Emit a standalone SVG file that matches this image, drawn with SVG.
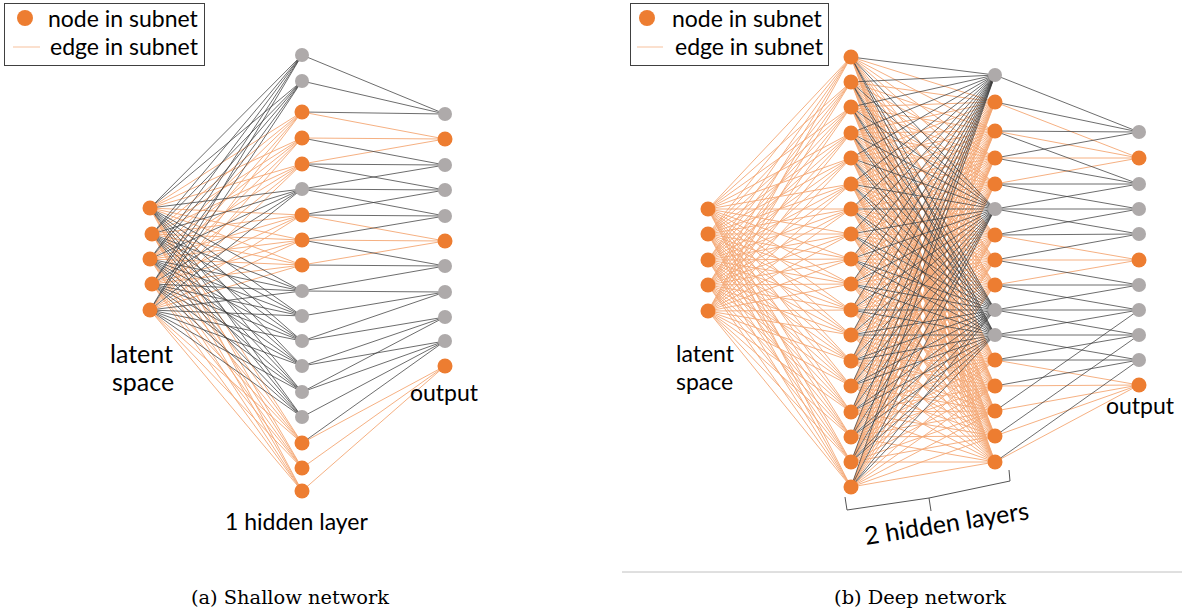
<svg xmlns="http://www.w3.org/2000/svg" width="1182" height="615" viewBox="0 0 1182 615">
<style>
.o{fill:#ED7D31}
.g{fill:#AEAAAA}
.eo{stroke:#F4A774;stroke-width:0.9;fill:none}
.ek{stroke:#3C3C3C;stroke-width:0.75;fill:none}
.lbl{font-family:Lato,"Liberation Sans",sans-serif;font-size:23px;fill:#000}
.big{font-size:25px}
.cap{font-family:"DejaVu Serif","Liberation Serif",serif;font-size:19.4px;fill:#000}
.box{fill:#fff;stroke:#404040;stroke-width:1}
</style>
<rect width="1182" height="615" fill="#fff"/>
<g id="connectors">
<!-- (a) input -> hidden -->
<path class="eo" d="M150 208L302 112M150 208L302 138M150 208L302 164M150 208L302 215M150 208L302 240M150 208L302 265M150 208L302 443M150 208L302 468M150 208L302 491
M152 234L302 112M152 234L302 138M152 234L302 164M152 234L302 215M152 234L302 240M152 234L302 265M152 234L302 443M152 234L302 468M152 234L302 491
M150 259L302 112M150 259L302 138M150 259L302 164M150 259L302 215M150 259L302 240M150 259L302 265M150 259L302 443M150 259L302 468M150 259L302 491
M152 284L302 112M152 284L302 138M152 284L302 164M152 284L302 215M152 284L302 240M152 284L302 265M152 284L302 443M152 284L302 468M152 284L302 491
M150 310L302 112M150 310L302 138M150 310L302 164M150 310L302 215M150 310L302 240M150 310L302 265M150 310L302 443M150 310L302 468M150 310L302 491"/>
<path class="ek" d="M150 208L302 55M150 208L302 81M150 208L302 189M150 208L302 291M150 208L302 316M150 208L302 341M150 208L302 366M150 208L302 392M150 208L302 417
M152 234L302 55M152 234L302 81M152 234L302 189M152 234L302 291M152 234L302 316M152 234L302 341M152 234L302 366M152 234L302 392M152 234L302 417
M150 259L302 55M150 259L302 81M150 259L302 189M150 259L302 291M150 259L302 316M150 259L302 341M150 259L302 366M150 259L302 392M150 259L302 417
M152 284L302 55M152 284L302 81M152 284L302 189M152 284L302 291M152 284L302 316M152 284L302 341M152 284L302 366M152 284L302 392M152 284L302 417
M150 310L302 55M150 310L302 81M150 310L302 189M150 310L302 291M150 310L302 316M150 310L302 341M150 310L302 366M150 310L302 392M150 310L302 417"/>
<!-- (a) hidden -> output -->
<path class="eo" d="M302 112L445 139M302 138L445 139M302 164L445 139M302 215L445 241M302 240L445 241M302 265L445 241M302 443L445 366M302 468L445 366M302 491L445 366"/>
<path class="ek" d="M302 55L445 114M302 81L445 114M302 112L445 114M302 138L445 165M302 164L445 165M302 164L445 190M302 189L445 165M302 189L445 190M302 189L445 216M302 215L445 190M302 215L445 216M302 240L445 216M302 240L445 266M302 265L445 266M302 291L445 266M302 291L445 292M302 316L445 292M302 341L445 292M302 341L445 317M302 366L445 317M302 366L445 341M302 392L445 317M302 392L445 341M302 417L445 341M302 443L445 341"/>
<!-- (b) input -> hidden1 -->
<path class="eo" d="M708 209L851 57M708 209L851 82M708 209L851 107M708 209L851 133M708 209L851 158M708 209L851 184M708 209L851 209M708 209L851 234M708 209L851 259M708 209L851 284M708 209L851 310M708 209L851 335M708 209L851 361M708 209L851 386M708 209L851 412M708 209L851 437M708 209L851 462M708 209L851 487
M708 234L851 57M708 234L851 82M708 234L851 107M708 234L851 133M708 234L851 158M708 234L851 184M708 234L851 209M708 234L851 234M708 234L851 259M708 234L851 284M708 234L851 310M708 234L851 335M708 234L851 361M708 234L851 386M708 234L851 412M708 234L851 437M708 234L851 462M708 234L851 487
M708 260L851 57M708 260L851 82M708 260L851 107M708 260L851 133M708 260L851 158M708 260L851 184M708 260L851 209M708 260L851 234M708 260L851 259M708 260L851 284M708 260L851 310M708 260L851 335M708 260L851 361M708 260L851 386M708 260L851 412M708 260L851 437M708 260L851 462M708 260L851 487
M708 285L851 57M708 285L851 82M708 285L851 107M708 285L851 133M708 285L851 158M708 285L851 184M708 285L851 209M708 285L851 234M708 285L851 259M708 285L851 284M708 285L851 310M708 285L851 335M708 285L851 361M708 285L851 386M708 285L851 412M708 285L851 437M708 285L851 462M708 285L851 487
M708 311L851 57M708 311L851 82M708 311L851 107M708 311L851 133M708 311L851 158M708 311L851 184M708 311L851 209M708 311L851 234M708 311L851 259M708 311L851 284M708 311L851 310M708 311L851 335M708 311L851 361M708 311L851 386M708 311L851 412M708 311L851 437M708 311L851 462M708 311L851 487"/>
<!-- (b) hidden1 -> hidden2 -->
<path class="eo" d="M851 57L995 102M851 57L995 131M851 57L995 158M851 57L995 184M851 57L995 235M851 57L995 260M851 57L995 285M851 57L995 360M851 57L995 386M851 57L995 411M851 57L995 436M851 57L995 462
M851 82L995 102M851 82L995 131M851 82L995 158M851 82L995 184M851 82L995 235M851 82L995 260M851 82L995 285M851 82L995 360M851 82L995 386M851 82L995 411M851 82L995 436M851 82L995 462
M851 107L995 102M851 107L995 131M851 107L995 158M851 107L995 184M851 107L995 235M851 107L995 260M851 107L995 285M851 107L995 360M851 107L995 386M851 107L995 411M851 107L995 436M851 107L995 462
M851 133L995 102M851 133L995 131M851 133L995 158M851 133L995 184M851 133L995 235M851 133L995 260M851 133L995 285M851 133L995 360M851 133L995 386M851 133L995 411M851 133L995 436M851 133L995 462
M851 158L995 102M851 158L995 131M851 158L995 158M851 158L995 184M851 158L995 235M851 158L995 260M851 158L995 285M851 158L995 360M851 158L995 386M851 158L995 411M851 158L995 436M851 158L995 462
M851 184L995 102M851 184L995 131M851 184L995 158M851 184L995 184M851 184L995 235M851 184L995 260M851 184L995 285M851 184L995 360M851 184L995 386M851 184L995 411M851 184L995 436M851 184L995 462
M851 209L995 102M851 209L995 131M851 209L995 158M851 209L995 184M851 209L995 235M851 209L995 260M851 209L995 285M851 209L995 360M851 209L995 386M851 209L995 411M851 209L995 436M851 209L995 462
M851 234L995 102M851 234L995 131M851 234L995 158M851 234L995 184M851 234L995 235M851 234L995 260M851 234L995 285M851 234L995 360M851 234L995 386M851 234L995 411M851 234L995 436M851 234L995 462
M851 259L995 102M851 259L995 131M851 259L995 158M851 259L995 184M851 259L995 235M851 259L995 260M851 259L995 285M851 259L995 360M851 259L995 386M851 259L995 411M851 259L995 436M851 259L995 462
M851 284L995 102M851 284L995 131M851 284L995 158M851 284L995 184M851 284L995 235M851 284L995 260M851 284L995 285M851 284L995 360M851 284L995 386M851 284L995 411M851 284L995 436M851 284L995 462
M851 310L995 102M851 310L995 131M851 310L995 158M851 310L995 184M851 310L995 235M851 310L995 260M851 310L995 285M851 310L995 360M851 310L995 386M851 310L995 411M851 310L995 436M851 310L995 462
M851 335L995 102M851 335L995 131M851 335L995 158M851 335L995 184M851 335L995 235M851 335L995 260M851 335L995 285M851 335L995 360M851 335L995 386M851 335L995 411M851 335L995 436M851 335L995 462
M851 361L995 102M851 361L995 131M851 361L995 158M851 361L995 184M851 361L995 235M851 361L995 260M851 361L995 285M851 361L995 360M851 361L995 386M851 361L995 411M851 361L995 436M851 361L995 462
M851 386L995 102M851 386L995 131M851 386L995 158M851 386L995 184M851 386L995 235M851 386L995 260M851 386L995 285M851 386L995 360M851 386L995 386M851 386L995 411M851 386L995 436M851 386L995 462
M851 412L995 102M851 412L995 131M851 412L995 158M851 412L995 184M851 412L995 235M851 412L995 260M851 412L995 285M851 412L995 360M851 412L995 386M851 412L995 411M851 412L995 436M851 412L995 462
M851 437L995 102M851 437L995 131M851 437L995 158M851 437L995 184M851 437L995 235M851 437L995 260M851 437L995 285M851 437L995 360M851 437L995 386M851 437L995 411M851 437L995 436M851 437L995 462
M851 462L995 102M851 462L995 131M851 462L995 158M851 462L995 184M851 462L995 235M851 462L995 260M851 462L995 285M851 462L995 360M851 462L995 386M851 462L995 411M851 462L995 436M851 462L995 462
M851 487L995 102M851 487L995 131M851 487L995 158M851 487L995 184M851 487L995 235M851 487L995 260M851 487L995 285M851 487L995 360M851 487L995 386M851 487L995 411M851 487L995 436M851 487L995 462"/>
<path class="ek" d="M851 57L995 75M851 57L995 209M851 57L995 310M851 57L995 335
M851 82L995 75M851 82L995 209M851 82L995 310M851 82L995 335
M851 107L995 75M851 107L995 209M851 107L995 310M851 107L995 335
M851 133L995 75M851 133L995 209M851 133L995 310M851 133L995 335
M851 158L995 75M851 158L995 209M851 158L995 310M851 158L995 335
M851 184L995 75M851 184L995 209M851 184L995 310M851 184L995 335
M851 209L995 75M851 209L995 209M851 209L995 310M851 209L995 335
M851 234L995 75M851 234L995 209M851 234L995 310M851 234L995 335
M851 259L995 75M851 259L995 209M851 259L995 310M851 259L995 335
M851 284L995 75M851 284L995 209M851 284L995 310M851 284L995 335
M851 310L995 75M851 310L995 209M851 310L995 310M851 310L995 335
M851 335L995 75M851 335L995 209M851 335L995 310M851 335L995 335
M851 361L995 75M851 361L995 209M851 361L995 310M851 361L995 335
M851 386L995 75M851 386L995 209M851 386L995 310M851 386L995 335
M851 412L995 75M851 412L995 209M851 412L995 310M851 412L995 335
M851 437L995 75M851 437L995 209M851 437L995 310M851 437L995 335
M851 462L995 75M851 462L995 209M851 462L995 310M851 462L995 335
M851 487L995 75M851 487L995 209M851 487L995 310M851 487L995 335"/>
<!-- (b) hidden2 -> output -->
<path class="eo" d="M995 102L1139 158M995 131L1139 158M995 158L1139 158M995 184L1139 158M995 235L1139 260M995 260L1139 260M995 285L1139 260M995 360L1139 385M995 386L1139 385M995 411L1139 385M995 436L1139 385M995 462L1139 385"/>
<path class="ek" d="M995 75L1139 132M995 102L1139 132M995 131L1139 132M995 131L1139 184M995 158L1139 132M995 158L1139 184M995 184L1139 184M995 184L1139 209M995 209L1139 184M995 209L1139 209M995 209L1139 234M995 235L1139 209M995 235L1139 234M995 260L1139 234M995 260L1139 285M995 285L1139 285M995 285L1139 310M995 310L1139 285M995 310L1139 310M995 310L1139 335M995 335L1139 310M995 335L1139 335M995 335L1139 360M995 360L1139 335M995 360L1139 360M995 386L1139 360M995 411L1139 310M995 436L1139 335M995 462L1139 360"/>
<!-- bracket -->
<path d="M845 497L847 510L929 498L931 511M929 498L1010 481L1009 470" fill="none" stroke="#555" stroke-width="1"/>
</g>
<!-- (a) nodes -->
<g id="a-in-0"><circle class="o" cx="150" cy="208" r="7.5"/></g>
<g id="a-in-1"><circle class="o" cx="152" cy="234" r="7.5"/></g>
<g id="a-in-2"><circle class="o" cx="150" cy="259" r="7.5"/></g>
<g id="a-in-3"><circle class="o" cx="152" cy="284" r="7.5"/></g>
<g id="a-in-4"><circle class="o" cx="150" cy="310" r="7.5"/></g>
<g id="a-h-0"><circle class="g" cx="302" cy="55" r="7"/></g>
<g id="a-h-1"><circle class="g" cx="302" cy="81" r="7"/></g>
<g id="a-h-2"><circle class="o" cx="302" cy="112" r="7.5"/></g>
<g id="a-h-3"><circle class="o" cx="302" cy="138" r="7.5"/></g>
<g id="a-h-4"><circle class="o" cx="302" cy="164" r="7.5"/></g>
<g id="a-h-5"><circle class="g" cx="302" cy="189" r="7"/></g>
<g id="a-h-6"><circle class="o" cx="302" cy="215" r="7.5"/></g>
<g id="a-h-7"><circle class="o" cx="302" cy="240" r="7.5"/></g>
<g id="a-h-8"><circle class="o" cx="302" cy="265" r="7.5"/></g>
<g id="a-h-9"><circle class="g" cx="302" cy="291" r="7"/></g>
<g id="a-h-10"><circle class="g" cx="302" cy="316" r="7"/></g>
<g id="a-h-11"><circle class="g" cx="302" cy="341" r="7"/></g>
<g id="a-h-12"><circle class="g" cx="302" cy="366" r="7"/></g>
<g id="a-h-13"><circle class="g" cx="302" cy="392" r="7"/></g>
<g id="a-h-14"><circle class="g" cx="302" cy="417" r="7"/></g>
<g id="a-h-15"><circle class="o" cx="302" cy="443" r="7.5"/></g>
<g id="a-h-16"><circle class="o" cx="302" cy="468" r="7.5"/></g>
<g id="a-h-17"><circle class="o" cx="302" cy="491" r="7.5"/></g>
<g id="a-out-0"><circle class="g" cx="445" cy="114" r="7"/></g>
<g id="a-out-1"><circle class="o" cx="445" cy="139" r="7.5"/></g>
<g id="a-out-2"><circle class="g" cx="445" cy="165" r="7"/></g>
<g id="a-out-3"><circle class="g" cx="445" cy="190" r="7"/></g>
<g id="a-out-4"><circle class="g" cx="445" cy="216" r="7"/></g>
<g id="a-out-5"><circle class="o" cx="445" cy="241" r="7.5"/></g>
<g id="a-out-6"><circle class="g" cx="445" cy="266" r="7"/></g>
<g id="a-out-7"><circle class="g" cx="445" cy="292" r="7"/></g>
<g id="a-out-8"><circle class="g" cx="445" cy="317" r="7"/></g>
<g id="a-out-9"><circle class="g" cx="445" cy="341" r="7"/></g>
<g id="a-out-10"><circle class="o" cx="445" cy="366" r="7.5"/></g>
<!-- (b) nodes -->
<g id="b-in-0"><circle class="o" cx="708" cy="209" r="7.5"/></g>
<g id="b-in-1"><circle class="o" cx="708" cy="234" r="7.5"/></g>
<g id="b-in-2"><circle class="o" cx="708" cy="260" r="7.5"/></g>
<g id="b-in-3"><circle class="o" cx="708" cy="285" r="7.5"/></g>
<g id="b-in-4"><circle class="o" cx="708" cy="311" r="7.5"/></g>
<g id="b-h1-0"><circle class="o" cx="851" cy="57" r="7.5"/></g>
<g id="b-h1-1"><circle class="o" cx="851" cy="82" r="7.5"/></g>
<g id="b-h1-2"><circle class="o" cx="851" cy="107" r="7.5"/></g>
<g id="b-h1-3"><circle class="o" cx="851" cy="133" r="7.5"/></g>
<g id="b-h1-4"><circle class="o" cx="851" cy="158" r="7.5"/></g>
<g id="b-h1-5"><circle class="o" cx="851" cy="184" r="7.5"/></g>
<g id="b-h1-6"><circle class="o" cx="851" cy="209" r="7.5"/></g>
<g id="b-h1-7"><circle class="o" cx="851" cy="234" r="7.5"/></g>
<g id="b-h1-8"><circle class="o" cx="851" cy="259" r="7.5"/></g>
<g id="b-h1-9"><circle class="o" cx="851" cy="284" r="7.5"/></g>
<g id="b-h1-10"><circle class="o" cx="851" cy="310" r="7.5"/></g>
<g id="b-h1-11"><circle class="o" cx="851" cy="335" r="7.5"/></g>
<g id="b-h1-12"><circle class="o" cx="851" cy="361" r="7.5"/></g>
<g id="b-h1-13"><circle class="o" cx="851" cy="386" r="7.5"/></g>
<g id="b-h1-14"><circle class="o" cx="851" cy="412" r="7.5"/></g>
<g id="b-h1-15"><circle class="o" cx="851" cy="437" r="7.5"/></g>
<g id="b-h1-16"><circle class="o" cx="851" cy="462" r="7.5"/></g>
<g id="b-h1-17"><circle class="o" cx="851" cy="487" r="7.5"/></g>
<g id="b-h2-0"><circle class="g" cx="995" cy="75" r="7"/></g>
<g id="b-h2-1"><circle class="o" cx="995" cy="102" r="7.5"/></g>
<g id="b-h2-2"><circle class="o" cx="995" cy="131" r="7.5"/></g>
<g id="b-h2-3"><circle class="o" cx="995" cy="158" r="7.5"/></g>
<g id="b-h2-4"><circle class="o" cx="995" cy="184" r="7.5"/></g>
<g id="b-h2-5"><circle class="g" cx="995" cy="209" r="7"/></g>
<g id="b-h2-6"><circle class="o" cx="995" cy="235" r="7.5"/></g>
<g id="b-h2-7"><circle class="o" cx="995" cy="260" r="7.5"/></g>
<g id="b-h2-8"><circle class="o" cx="995" cy="285" r="7.5"/></g>
<g id="b-h2-9"><circle class="g" cx="995" cy="310" r="7"/></g>
<g id="b-h2-10"><circle class="g" cx="995" cy="335" r="7"/></g>
<g id="b-h2-11"><circle class="o" cx="995" cy="360" r="7.5"/></g>
<g id="b-h2-12"><circle class="o" cx="995" cy="386" r="7.5"/></g>
<g id="b-h2-13"><circle class="o" cx="995" cy="411" r="7.5"/></g>
<g id="b-h2-14"><circle class="o" cx="995" cy="436" r="7.5"/></g>
<g id="b-h2-15"><circle class="o" cx="995" cy="462" r="7.5"/></g>
<g id="b-out-0"><circle class="g" cx="1139" cy="132" r="7"/></g>
<g id="b-out-1"><circle class="o" cx="1139" cy="158" r="7.5"/></g>
<g id="b-out-2"><circle class="g" cx="1139" cy="184" r="7"/></g>
<g id="b-out-3"><circle class="g" cx="1139" cy="209" r="7"/></g>
<g id="b-out-4"><circle class="g" cx="1139" cy="234" r="7"/></g>
<g id="b-out-5"><circle class="o" cx="1139" cy="260" r="7.5"/></g>
<g id="b-out-6"><circle class="g" cx="1139" cy="285" r="7"/></g>
<g id="b-out-7"><circle class="g" cx="1139" cy="310" r="7"/></g>
<g id="b-out-8"><circle class="g" cx="1139" cy="335" r="7"/></g>
<g id="b-out-9"><circle class="g" cx="1139" cy="360" r="7"/></g>
<g id="b-out-10"><circle class="o" cx="1139" cy="385" r="7.5"/></g>
<!-- legends -->
<g id="legend-a">
<rect class="box" x="4.5" y="3.5" width="200" height="62"/>
<circle class="o" cx="25" cy="18" r="8"/>
<line x1="13" y1="47" x2="40" y2="47" stroke="#F8CBAD" stroke-width="1.2"/>
<text class="lbl" x="48" y="27" font-size="22.5">node in subnet</text>
<text class="lbl" x="50" y="55" font-size="22.5">edge in subnet</text>
</g>
<g id="legend-b">
<rect class="box" x="630.5" y="3.5" width="198" height="62"/>
<circle class="o" cx="647" cy="18" r="8"/>
<line x1="637" y1="47" x2="663" y2="47" stroke="#F8CBAD" stroke-width="1.2"/>
<text class="lbl" x="672" y="27" font-size="22.5">node in subnet</text>
<text class="lbl" x="675" y="55" font-size="22.5">edge in subnet</text>
</g>
<!-- labels -->
<g id="labels">
<text class="lbl big" x="110" y="363">latent</text>
<text class="lbl big" x="112" y="391">space</text>
<text class="lbl" x="410" y="401">output</text>
<text class="lbl" x="225" y="530">1 hidden layer</text>
<text class="lbl" x="676" y="362">latent</text>
<text class="lbl" x="676" y="390">space</text>
<text class="lbl" x="1106" y="414">output</text>
<text class="lbl big" x="948" y="532" text-anchor="middle" transform="rotate(-9 948 532)">2 hidden layers</text>
<line x1="622" y1="572" x2="1182" y2="572" stroke="#C0C0C0" stroke-width="1"/>
<text class="cap" x="290" y="604" text-anchor="middle">(a) Shallow network</text>
<text class="cap" x="920" y="604" text-anchor="middle">(b) Deep network</text>
</g>
</svg>
